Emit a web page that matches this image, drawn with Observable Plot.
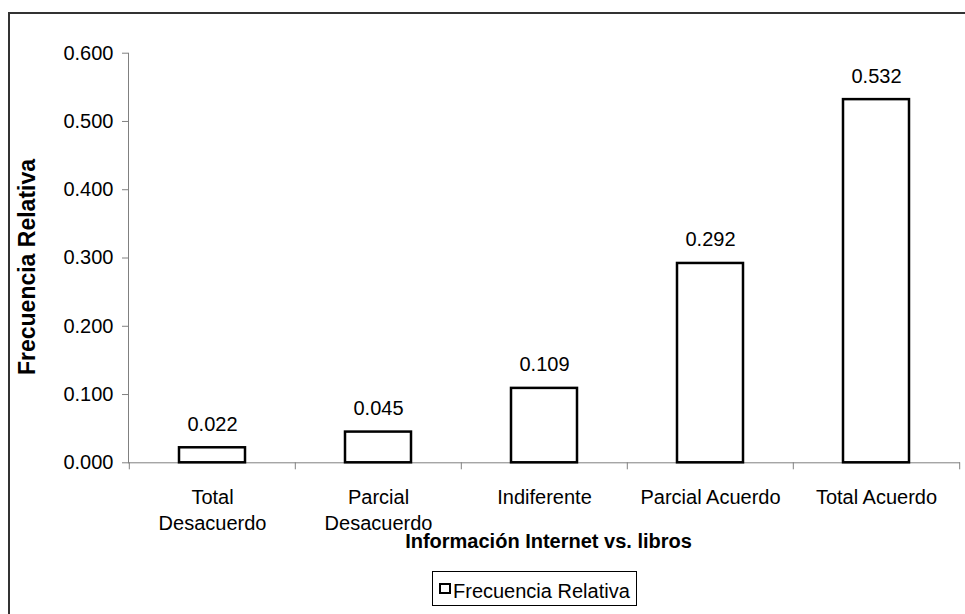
<!DOCTYPE html>
<html>
<head>
<meta charset="utf-8">
<script src="https://cdn.jsdelivr.net/npm/d3@7"></script>
<script src="https://cdn.jsdelivr.net/npm/@observablehq/plot@0.6"></script>
<style>
  html, body { margin: 0; padding: 0; background: #fff; }
  #wrap { position: relative; width: 965px; height: 614px; overflow: hidden; background: #fff;
          font-family: "Liberation Sans", Arial, sans-serif; }
  #outer { position: absolute; left: 8px; top: 12px; width: 1000px; height: 700px;
           border-left: 2px solid #333; border-top: 2px solid #333; box-sizing: border-box; }
  #chart { position: absolute; left: 0; top: 0; }
  #legend { position: absolute; left: 432px; top: 571px; width: 205px; height: 35px;
            border: 1px solid #000; box-sizing: border-box; background: #fff; }
  #legend .sw { position: absolute; left: 6px; top: 11px; width: 12px; height: 11px;
                border: 2px solid #000; box-sizing: border-box; background: #fff; }
  #legend .lb { position: absolute; left: 20px; top: 8.8px; font-size: 20px; line-height: 20px;
                white-space: nowrap; color: #000; }
</style>
</head>
<body>
<div id="wrap">
  <div id="outer"></div>
  <div id="chart"></div>
  <div id="legend"><div class="sw"></div><div class="lb"></div></div>
</div>
<script>
// ---- data ----
const categories = ["Total Desacuerdo", "Parcial Desacuerdo", "Indiferente", "Parcial Acuerdo", "Total Acuerdo"];
const tickLabels = ["Total\nDesacuerdo", "Parcial\nDesacuerdo", "Indiferente", "Parcial Acuerdo", "Total Acuerdo"];
const values = [0.022, 0.045, 0.109, 0.292, 0.532];
const yTicks = [0, 0.1, 0.2, 0.3, 0.4, 0.5, 0.6];
const xTitle = "Información Internet vs. libros";
const yTitle = "Frecuencia Relativa";
const seriesName = "Frecuencia Relativa";

const data = categories.map((c, i) => ({category: c, value: values[i]}));
const labelOf = new Map(categories.map((c, i) => [c, tickLabels[i]]));

const W = 965, H = 566;
const mL = 128, mR = 5, mT = 52.7, mB = H - 462.3;
const halfStep = (W - mL - mR) / categories.length / 2;
const gray = "#808080";

const chart = Plot.plot({
  width: W,
  height: H,
  marginLeft: mL,
  marginRight: mR,
  marginTop: mT,
  marginBottom: mB,
  style: {fontFamily: "'Liberation Sans', Arial, sans-serif", fontSize: "20px", color: "#000", background: "transparent", overflow: "visible"},
  x: {type: "band", domain: categories, paddingInner: 0.6, paddingOuter: 0.3, axis: null},
  y: {domain: [0, 0.6], axis: null},
  marks: [
    Plot.frame({anchor: "left", stroke: gray, strokeWidth: 1}),
    Plot.ruleY([0], {stroke: gray, strokeWidth: 1}),
    Plot.axisY({ticks: yTicks, tickFormat: d3.format(".3f"), tickSize: 6, tickPadding: 9,
                stroke: gray, fill: "#000", label: null, fontSize: 20}),
    Plot.axisX({tickSize: 7, tickFormat: () => "", dx: -halfStep, stroke: gray, label: null}),
    Plot.axisX({ticks: [categories[categories.length - 1]], tickSize: 7, tickFormat: () => "", dx: halfStep, stroke: gray, label: null}),
    Plot.axisX({tickSize: 0, tickPadding: 22.5, tickFormat: d => labelOf.get(d), lineHeight: 1.3,
                fill: "#000", label: null, fontSize: 20}),
    Plot.barY(data, {x: "category", y: "value", fill: "white", stroke: "#000", strokeWidth: 2.5}),
    Plot.text(data, {x: "category", y: "value", text: d => d3.format(".3f")(d.value),
                     dy: -23.5, fontSize: 20, fill: "#000", lineAnchor: "middle"}),
    Plot.text([xTitle], {frameAnchor: "bottom", text: d => d, lineAnchor: "top", textAnchor: "middle",
                         dy: 71, dx: 4, fontSize: 20, fontWeight: "bold", fill: "#000"}),
    Plot.text([yTitle], {frameAnchor: "left", text: d => d, rotate: -90, lineAnchor: "middle", textAnchor: "middle",
                         dx: -100.5, dy: 9, fontSize: 23, fontWeight: "bold", fill: "#000"})
  ]
});
document.getElementById("chart").appendChild(chart);
document.querySelector("#legend .lb").textContent = seriesName;
</script>
</body>
</html>
